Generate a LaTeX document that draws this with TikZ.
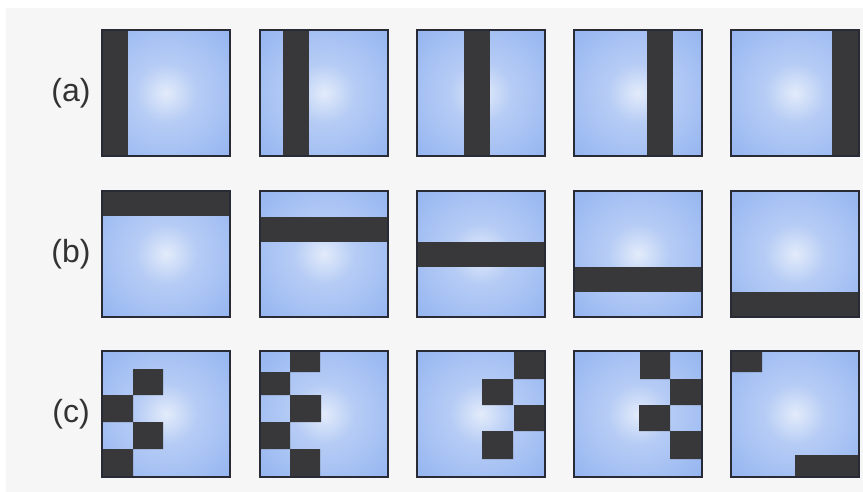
\documentclass[tikz,border=0pt]{standalone}
\usepackage{fontspec}
\setmainfont{Liberation Sans}
\usetikzlibrary{positioning}
\definecolor{bgGray}{RGB}{246,246,246}
\definecolor{glowCen}{RGB}{226,235,250}
\definecolor{glowMid}{RGB}{182,204,245}
\definecolor{glowEdge}{RGB}{128,167,238}
\definecolor{glowCorner}{RGB}{106,148,230}
\definecolor{barGray}{RGB}{56,56,58}
\definecolor{frameGray}{RGB}{40,42,54}
\pgfdeclareradialshading{panelglow}{\pgfpoint{0bp}{0bp}}{color(0bp)=(glowCen); color(12bp)=(glowMid); color(50bp)=(glowEdge); color(72bp)=(glowCorner)}

\begin{document}
\begin{tikzpicture}[x=1pt, y=-1pt,
        panel/.style={shading=panelglow},
        frame/.style={draw=frameGray, line width=1.4pt},
        bar/.style={fill=barGray},
        lbl/.style={font=\fontsize{32}{32}\selectfont, text=black!80, inner sep=0pt}]
    \useasboundingbox (0,0) rectangle (863,492);
    \fill[white] (0,0) rectangle (863,492);
    \fill[bgGray] (6,8) rectangle (863,492);
    % row labels
    \node[lbl] (la) at (71,93) {(a)};
    \node[lbl] (lb) at (71,254) {(b)};
    \node[lbl] (lc) at (71,414) {(c)};
    % (a) vertical bars
    \foreach \px/\bx in {102/0, 260/23, 417/47, 574/73, 731/101} {
        \begin{scope}[shift={(\px,30)}]
            \fill[panel] (0,0) rectangle (128,126);
            \fill[bar] (\bx,0) rectangle ++(26,126);
            \draw[frame] (0,0) rectangle (128,126);
        \end{scope}
    }
    % (b) horizontal bars
    \foreach \px/\by in {102/0, 260/26, 417/51, 574/76, 731/101} {
        \begin{scope}[shift={(\px,191)}]
            \fill[panel] (0,0) rectangle (128,126);
            \fill[bar] (0,\by) rectangle ++(128,25);
            \draw[frame] (0,0) rectangle (128,126);
        \end{scope}
    }
    % (c) checker patterns
    \begin{scope}[shift={(102,351)}]
        \fill[panel] (0,0) rectangle (128,126);
        \fill[bar] (31,18) rectangle (61,44) (0,44) rectangle (31,71)
                   (31,71) rectangle (61,98) (0,98) rectangle (31,126);
        \draw[frame] (0,0) rectangle (128,126);
    \end{scope}
    \begin{scope}[shift={(260,351)}]
        \fill[panel] (0,0) rectangle (128,126);
        \fill[bar] (30,0) rectangle (60,21) (0,21) rectangle (30,44)
                   (30,44) rectangle (61,71) (0,71) rectangle (30,98)
                   (30,98) rectangle (60,126);
        \draw[frame] (0,0) rectangle (128,126);
    \end{scope}
    \begin{scope}[shift={(417,351)}]
        \fill[panel] (0,0) rectangle (128,126);
        \fill[bar] (97,0) rectangle (128,28) (65,28) rectangle (96,54)
                   (97,54) rectangle (128,80) (65,80) rectangle (96,108);
        \draw[frame] (0,0) rectangle (128,126);
    \end{scope}
    \begin{scope}[shift={(574,351)}]
        \fill[panel] (0,0) rectangle (128,126);
        \fill[bar] (66,0) rectangle (96,28) (96,28) rectangle (128,54)
                   (65,54) rectangle (96,80) (96,80) rectangle (128,108);
        \draw[frame] (0,0) rectangle (128,126);
    \end{scope}
    \begin{scope}[shift={(731,351)}]
        \fill[panel] (0,0) rectangle (128,126);
        \fill[bar] (0,0) rectangle (31,21) (64,104) rectangle (128,126);
        \draw[frame] (0,0) rectangle (128,126);
    \end{scope}
\end{tikzpicture}
\end{document}
